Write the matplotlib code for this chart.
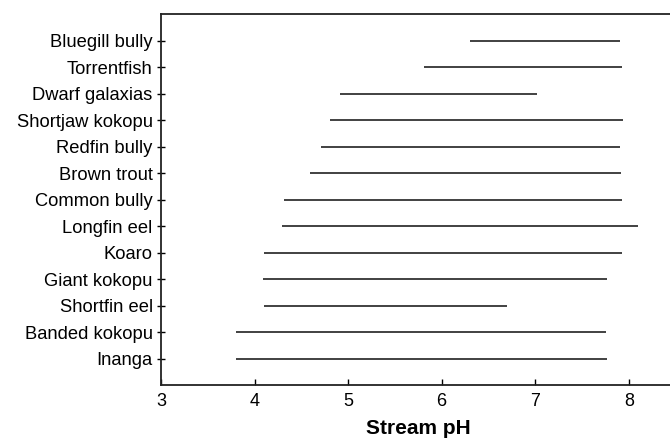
import numpy as np
import matplotlib.pyplot as plt

plt.rcParams['font.family'] = ['Liberation Sans', 'DejaVu Sans']

species = ["Inanga", "Banded kokopu", "Shortfin eel", "Giant kokopu", "Koaro",
           "Longfin eel", "Common bully", "Brown trout", "Redfin bully",
           "Shortjaw kokopu", "Dwarf galaxias", "Torrentfish", "Bluegill bully"]
ph_min = [3.80, 3.80, 4.10, 4.09, 4.10, 4.29, 4.31, 4.59, 4.71, 4.81, 4.91, 5.81, 6.30]
ph_max = [7.77, 7.76, 6.70, 7.77, 7.93, 8.10, 7.93, 7.92, 7.91, 7.94, 7.02, 7.93, 7.91]

fig = plt.figure(figsize=(6.7, 4.4), dpi=100)
ax = fig.add_axes([0.2403, 0.125, 0.768, 0.843])

y = np.arange(len(species))
ax.hlines(y, ph_min, ph_max, color='#333333', linewidth=1.3)

ax.set_xlim(3, 8.5)
ax.set_ylim(-1, len(species))
ax.set_xticks([3, 4, 5, 6, 7, 8])
ax.set_yticks(y)
ax.set_yticklabels(species)

ax.tick_params(axis='x', direction='in', length=4, width=1, labelsize=13, pad=6)
ax.tick_params(axis='y', direction='inout', length=6, width=1, labelsize=13.2, pad=3)
for s in ax.spines.values():
    s.set_linewidth(1.3)
    s.set_color('#222222')

ax.set_xlabel("Stream pH", fontsize=15, fontweight='bold', labelpad=6)

fig.savefig("out.png", dpi=100)
